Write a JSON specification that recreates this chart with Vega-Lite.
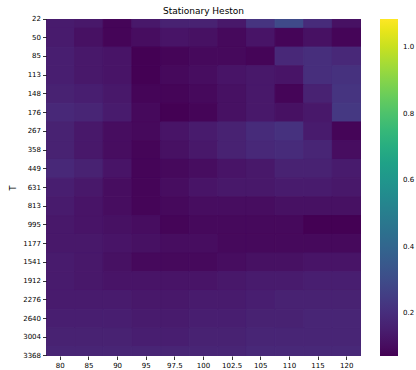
{
  "$schema": "https://vega.github.io/schema/vega-lite/v6.json",
  "autosize": "none",
  "width": 315,
  "height": 337,
  "padding": {"left": 46, "top": 19, "right": 55, "bottom": 14},
  "background": "white",
  "title": {"text": "Stationary Heston", "fontSize": 9, "font": "DejaVu Sans", "fontWeight": "normal", "color": "#000000", "offset": -1},
  "config": {"view": {"stroke": null}},
  "data": {"values": [
{"T":22,"K":80,"v":0.142},{"T":22,"K":85,"v":0.132},{"T":22,"K":90,"v":0.081},{"T":22,"K":95,"v":0.132},{"T":22,"K":97.5,"v":0.162},{"T":22,"K":100,"v":0.162},{"T":22,"K":102.5,"v":0.132},{"T":22,"K":105,"v":0.223},{"T":22,"K":110,"v":0.294},{"T":22,"K":115,"v":0.193},{"T":22,"K":120,"v":0.112},
{"T":50,"K":80,"v":0.142},{"T":50,"K":85,"v":0.112},{"T":50,"K":90,"v":0.081},{"T":50,"K":95,"v":0.101},{"T":50,"K":97.5,"v":0.122},{"T":50,"K":100,"v":0.112},{"T":50,"K":102.5,"v":0.091},{"T":50,"K":105,"v":0.122},{"T":50,"K":110,"v":0.081},{"T":50,"K":115,"v":0.112},{"T":50,"K":120,"v":0.081},
{"T":85,"K":80,"v":0.152},{"T":85,"K":85,"v":0.132},{"T":85,"K":90,"v":0.122},{"T":85,"K":95,"v":0.071},{"T":85,"K":97.5,"v":0.081},{"T":85,"K":100,"v":0.091},{"T":85,"K":102.5,"v":0.091},{"T":85,"K":105,"v":0.081},{"T":85,"K":110,"v":0.183},{"T":85,"K":115,"v":0.203},{"T":85,"K":120,"v":0.183},
{"T":113,"K":80,"v":0.152},{"T":113,"K":85,"v":0.132},{"T":113,"K":90,"v":0.122},{"T":113,"K":95,"v":0.071},{"T":113,"K":97.5,"v":0.091},{"T":113,"K":100,"v":0.101},{"T":113,"K":102.5,"v":0.122},{"T":113,"K":105,"v":0.132},{"T":113,"K":110,"v":0.122},{"T":113,"K":115,"v":0.203},{"T":113,"K":120,"v":0.213},
{"T":148,"K":80,"v":0.162},{"T":148,"K":85,"v":0.152},{"T":148,"K":90,"v":0.132},{"T":148,"K":95,"v":0.081},{"T":148,"K":97.5,"v":0.081},{"T":148,"K":100,"v":0.091},{"T":148,"K":102.5,"v":0.112},{"T":148,"K":105,"v":0.132},{"T":148,"K":110,"v":0.081},{"T":148,"K":115,"v":0.162},{"T":148,"K":120,"v":0.223},
{"T":176,"K":80,"v":0.183},{"T":176,"K":85,"v":0.172},{"T":176,"K":90,"v":0.142},{"T":176,"K":95,"v":0.091},{"T":176,"K":97.5,"v":0.071},{"T":176,"K":100,"v":0.081},{"T":176,"K":102.5,"v":0.112},{"T":176,"K":105,"v":0.132},{"T":176,"K":110,"v":0.112},{"T":176,"K":115,"v":0.132},{"T":176,"K":120,"v":0.233},
{"T":267,"K":80,"v":0.162},{"T":267,"K":85,"v":0.132},{"T":267,"K":90,"v":0.101},{"T":267,"K":95,"v":0.091},{"T":267,"K":97.5,"v":0.122},{"T":267,"K":100,"v":0.142},{"T":267,"K":102.5,"v":0.162},{"T":267,"K":105,"v":0.193},{"T":267,"K":110,"v":0.213},{"T":267,"K":115,"v":0.142},{"T":267,"K":120,"v":0.081},
{"T":358,"K":80,"v":0.162},{"T":358,"K":85,"v":0.132},{"T":358,"K":90,"v":0.101},{"T":358,"K":95,"v":0.081},{"T":358,"K":97.5,"v":0.112},{"T":358,"K":100,"v":0.132},{"T":358,"K":102.5,"v":0.162},{"T":358,"K":105,"v":0.183},{"T":358,"K":110,"v":0.193},{"T":358,"K":115,"v":0.172},{"T":358,"K":120,"v":0.101},
{"T":449,"K":80,"v":0.183},{"T":449,"K":85,"v":0.162},{"T":449,"K":90,"v":0.122},{"T":449,"K":95,"v":0.081},{"T":449,"K":97.5,"v":0.091},{"T":449,"K":100,"v":0.101},{"T":449,"K":102.5,"v":0.122},{"T":449,"K":105,"v":0.132},{"T":449,"K":110,"v":0.162},{"T":449,"K":115,"v":0.162},{"T":449,"K":120,"v":0.142},
{"T":631,"K":80,"v":0.152},{"T":631,"K":85,"v":0.132},{"T":631,"K":90,"v":0.101},{"T":631,"K":95,"v":0.081},{"T":631,"K":97.5,"v":0.101},{"T":631,"K":100,"v":0.122},{"T":631,"K":102.5,"v":0.132},{"T":631,"K":105,"v":0.132},{"T":631,"K":110,"v":0.142},{"T":631,"K":115,"v":0.142},{"T":631,"K":120,"v":0.132},
{"T":813,"K":80,"v":0.142},{"T":813,"K":85,"v":0.122},{"T":813,"K":90,"v":0.101},{"T":813,"K":95,"v":0.081},{"T":813,"K":97.5,"v":0.091},{"T":813,"K":100,"v":0.101},{"T":813,"K":102.5,"v":0.101},{"T":813,"K":105,"v":0.101},{"T":813,"K":110,"v":0.112},{"T":813,"K":115,"v":0.112},{"T":813,"K":120,"v":0.112},
{"T":995,"K":80,"v":0.132},{"T":995,"K":85,"v":0.122},{"T":995,"K":90,"v":0.112},{"T":995,"K":95,"v":0.101},{"T":995,"K":97.5,"v":0.081},{"T":995,"K":100,"v":0.091},{"T":995,"K":102.5,"v":0.091},{"T":995,"K":105,"v":0.091},{"T":995,"K":110,"v":0.091},{"T":995,"K":115,"v":0.071},{"T":995,"K":120,"v":0.071},
{"T":1177,"K":80,"v":0.132},{"T":1177,"K":85,"v":0.132},{"T":1177,"K":90,"v":0.122},{"T":1177,"K":95,"v":0.112},{"T":1177,"K":97.5,"v":0.101},{"T":1177,"K":100,"v":0.101},{"T":1177,"K":102.5,"v":0.091},{"T":1177,"K":105,"v":0.091},{"T":1177,"K":110,"v":0.091},{"T":1177,"K":115,"v":0.091},{"T":1177,"K":120,"v":0.091},
{"T":1541,"K":80,"v":0.142},{"T":1541,"K":85,"v":0.132},{"T":1541,"K":90,"v":0.112},{"T":1541,"K":95,"v":0.091},{"T":1541,"K":97.5,"v":0.091},{"T":1541,"K":100,"v":0.091},{"T":1541,"K":102.5,"v":0.101},{"T":1541,"K":105,"v":0.112},{"T":1541,"K":110,"v":0.112},{"T":1541,"K":115,"v":0.122},{"T":1541,"K":120,"v":0.122},
{"T":1912,"K":80,"v":0.142},{"T":1912,"K":85,"v":0.132},{"T":1912,"K":90,"v":0.122},{"T":1912,"K":95,"v":0.122},{"T":1912,"K":97.5,"v":0.122},{"T":1912,"K":100,"v":0.122},{"T":1912,"K":102.5,"v":0.132},{"T":1912,"K":105,"v":0.142},{"T":1912,"K":110,"v":0.142},{"T":1912,"K":115,"v":0.152},{"T":1912,"K":120,"v":0.152},
{"T":2276,"K":80,"v":0.142},{"T":2276,"K":85,"v":0.142},{"T":2276,"K":90,"v":0.142},{"T":2276,"K":95,"v":0.132},{"T":2276,"K":97.5,"v":0.132},{"T":2276,"K":100,"v":0.142},{"T":2276,"K":102.5,"v":0.142},{"T":2276,"K":105,"v":0.152},{"T":2276,"K":110,"v":0.162},{"T":2276,"K":115,"v":0.162},{"T":2276,"K":120,"v":0.162},
{"T":2640,"K":80,"v":0.152},{"T":2640,"K":85,"v":0.152},{"T":2640,"K":90,"v":0.152},{"T":2640,"K":95,"v":0.142},{"T":2640,"K":97.5,"v":0.142},{"T":2640,"K":100,"v":0.152},{"T":2640,"K":102.5,"v":0.152},{"T":2640,"K":105,"v":0.162},{"T":2640,"K":110,"v":0.162},{"T":2640,"K":115,"v":0.172},{"T":2640,"K":120,"v":0.172},
{"T":3004,"K":80,"v":0.162},{"T":3004,"K":85,"v":0.162},{"T":3004,"K":90,"v":0.162},{"T":3004,"K":95,"v":0.152},{"T":3004,"K":97.5,"v":0.152},{"T":3004,"K":100,"v":0.162},{"T":3004,"K":102.5,"v":0.162},{"T":3004,"K":105,"v":0.172},{"T":3004,"K":110,"v":0.172},{"T":3004,"K":115,"v":0.172},{"T":3004,"K":120,"v":0.172},
{"T":3368,"K":80,"v":0.172},{"T":3368,"K":85,"v":0.172},{"T":3368,"K":90,"v":0.172},{"T":3368,"K":95,"v":0.172},{"T":3368,"K":97.5,"v":0.172},{"T":3368,"K":100,"v":0.172},{"T":3368,"K":102.5,"v":0.172},{"T":3368,"K":105,"v":0.183},{"T":3368,"K":110,"v":0.183},{"T":3368,"K":115,"v":0.183},{"T":3368,"K":120,"v":0.183}
  ]},
  "mark": {"type": "rect", "clip": true, "stroke": {"expr": "scale('color', datum.v)"}, "strokeWidth": 1},
  "encoding": {
    "x": {
      "field": "K", "type": "ordinal",
      "scale": {"paddingInner": 0, "paddingOuter": 0},
      "axis": {"title": null, "labelAngle": 0, "domain": false, "tickSize": 3.5, "tickColor": "#000000", "tickWidth": 0.8, "labelPadding": 2, "labelFont": "DejaVu Sans", "labelFontSize": 7, "labelColor": "#000000"}
    },
    "y": {
      "field": "T", "type": "ordinal",
      "scale": {"paddingInner": 0, "paddingOuter": 0, "range": [-9.36, 346.36]},
      "axis": {"title": "T", "titleFont": "DejaVu Sans", "titleFontSize": 8, "titleFontWeight": "normal", "titleColor": "#000000", "titlePadding": 5, "domain": false, "tickSize": 3.5, "tickColor": "#000000", "tickWidth": 0.8, "labelPadding": 2, "labelFont": "DejaVu Sans", "labelFontSize": 7, "labelColor": "#000000"}
    },
    "color": {
      "field": "v", "type": "quantitative",
      "scale": {"scheme": "viridis", "domain": [0.071, 1.085], "zero": false, "nice": false},
      "legend": {"type": "gradient", "title": null, "orient": "none", "legendX": 334, "legendY": 0, "gradientLength": 337, "gradientThickness": 18, "gradientStrokeWidth": 0, "values": [0.2, 0.4, 0.6, 0.8, 1.0], "format": ".1f", "labelFont": "DejaVu Sans", "labelFontSize": 7, "labelColor": "#000000", "labelOffset": 5, "padding": 0, "direction": "vertical"}
    }
  }
}
